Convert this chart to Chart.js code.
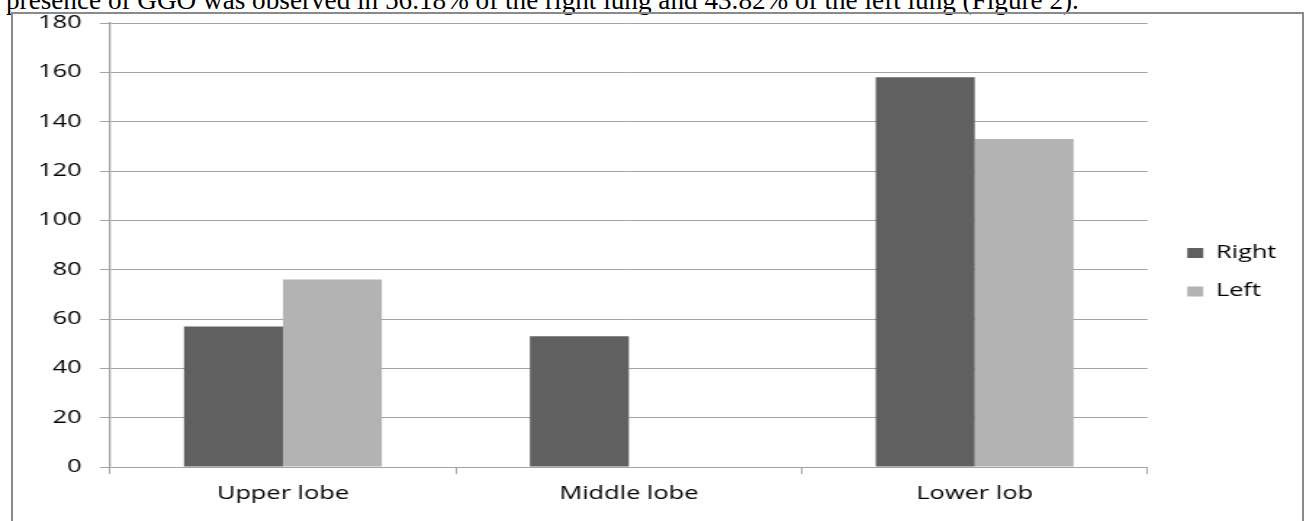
<!DOCTYPE html>
<html>
<head>
<meta charset="utf-8">
<script src="https://cdn.jsdelivr.net/npm/chart.js@4"></script>
<style>
  html, body { margin: 0; padding: 0; background: #fff; overflow: hidden; width: 1306px; height: 521px; }
  #lead {
    position: absolute; left: 6px; top: -13px;
    font: 27.2px/1 "Liberation Serif", "Times New Roman", serif;
    color: #000; white-space: nowrap;
  }
  #frame {
    position: absolute; left: 11px; top: 12px; width: 1293px; height: 520px;
    border: 2px solid #8a8a8a; border-bottom: none; box-sizing: border-box;
  }
  #stage {
    position: absolute; left: 0; top: 0; width: 900px; height: 521px;
    transform: scaleX(1.4511); transform-origin: 0 0;
  }
</style>
</head>
<body>
<div id="lead">presence of GGO was observed in 56.18% of the right lung and 43.82% of the left lung (Figure 2).</div>
<div id="frame"></div>
<div id="stage"><canvas id="c" width="900" height="521"></canvas></div>
<script>
// Lobes along the x axis
const categories = ['Upper lobe', 'Middle lobe', 'Lower lob'];
// Number of lobes with GGO, per lung side
const rightValues = [57, 53, 158];
const leftValues = [76, 0, 133];
// Value axis
const yMin = 0;
const yMax = 180;
const yStep = 20;

const labelFont = { family: '"Open Sans", sans-serif', size: 17.5 };
const lineGray = '#a3a3a3';

// Keeps the legend a fixed gap right of the plot and a little below centre
const legendPlacement = {
  id: 'legendPlacement',
  afterLayout(chart) {
    const lg = chart.legend;
    if (!lg) return;
    const dx = chart.chartArea.right + 27.3 - (lg.left + lg.options.labels.padding);
    const dy = 6;
    lg.left += dx; lg.right += dx;
    lg.top += dy; lg.bottom += dy;
  }
};

function draw() {
  new Chart(document.getElementById('c'), {
    type: 'bar',
    data: {
      labels: categories,
      datasets: [
        { label: 'Right', data: rightValues, backgroundColor: '#606060', borderWidth: 0 },
        { label: 'Left', data: leftValues, backgroundColor: '#b3b3b3', borderWidth: 0 }
      ]
    },
    plugins: [legendPlacement],
    options: {
      responsive: false,
      animation: false,
      events: [],
      datasets: { bar: { categoryPercentage: 0.572, barPercentage: 1 } },
      layout: { padding: { left: 0, top: 17.5, right: 16.7, bottom: 6 } },
      plugins: {
        tooltip: { enabled: false },
        legend: {
          position: 'right',
          align: 'center',
          labels: { boxWidth: 11, boxHeight: 10, padding: 21, color: '#000', font: labelFont }
        }
      },
      scales: {
        x: {
          grid: { drawOnChartArea: false, drawTicks: true, tickLength: 7, offset: true, color: lineGray, lineWidth: 1 },
          border: { color: lineGray, width: 1 },
          ticks: { color: '#000', font: labelFont, padding: 10 }
        },
        y: {
          min: yMin,
          max: yMax,
          afterFit(scale) { scale.width = 75.8; },
          ticks: { stepSize: yStep, padding: 12.5, color: '#000', font: labelFont },
          grid: { color: lineGray, lineWidth: 1, tickLength: 7 },
          border: { color: lineGray, width: 1.3 }
        }
      }
    }
  });
}

if (document.fonts && document.fonts.load) {
  document.fonts.load('17.5px "Open Sans"').then(draw, draw);
} else {
  draw();
}
</script>
</body>
</html>
